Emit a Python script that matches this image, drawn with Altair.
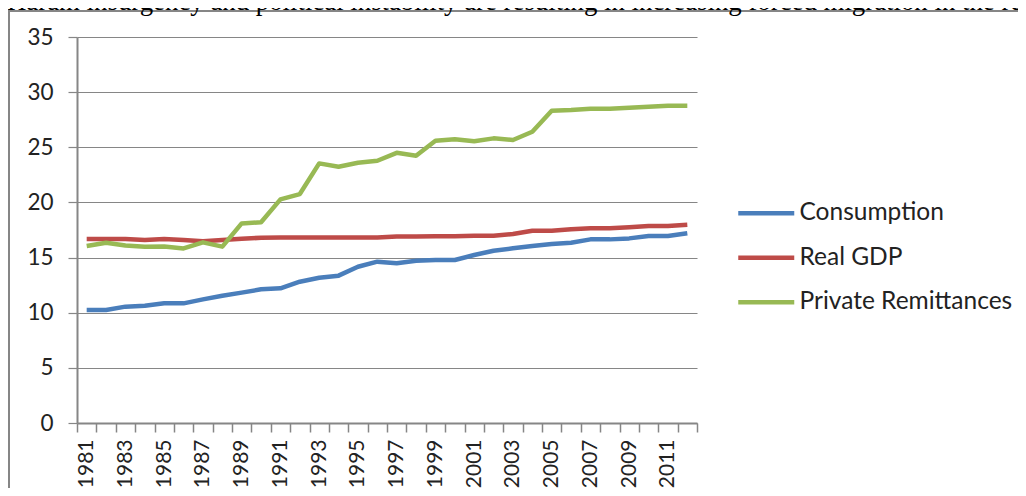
import altair as alt
import pandas as pd

years = list(range(1981, 2013))
consumption = [10.25, 10.25, 10.55, 10.64, 10.85, 10.85, 11.21, 11.54, 11.82, 12.12,
               12.21, 12.81, 13.17, 13.36, 14.17, 14.63, 14.48, 14.72, 14.78, 14.78,
               15.23, 15.62, 15.84, 16.05, 16.23, 16.35, 16.65, 16.65, 16.74, 16.95,
               16.95, 17.2]
real_gdp = [16.68, 16.68, 16.68, 16.6, 16.68, 16.6, 16.47, 16.6, 16.7, 16.8,
            16.83, 16.83, 16.83, 16.83, 16.83, 16.83, 16.9, 16.9, 16.93, 16.93,
            16.98, 16.98, 17.13, 17.43, 17.43, 17.56, 17.65, 17.65, 17.74, 17.86,
            17.86, 17.98]
remittances = [16.05, 16.35, 16.1, 15.99, 16.0, 15.83, 16.38, 15.99, 18.1, 18.2,
               20.28, 20.76, 23.54, 23.24, 23.6, 23.78, 24.5, 24.24, 25.6, 25.72,
               25.54, 25.81, 25.66, 26.41, 28.32, 28.38, 28.5, 28.5, 28.59, 28.68,
               28.77, 28.77]

series_names = ["Consumption", "Real GDP", "Private Remittances"]
series_colors = ["#4a7ebb", "#be4b48", "#98b954"]
y_ticks = [0, 5, 10, 15, 20, 25, 30, 35]
caption = ("Haram insurgency and political instability are resulting in increasing "
           "forced migration in the region")

rows = []
for name, vals in zip(series_names, [consumption, real_gdp, remittances]):
    for yr, v in zip(years, vals):
        rows.append({"Year": yr, "Value": v, "Series": name})
df = pd.DataFrame(rows)

half_years = [y - 0.5 for y in years] + [years[-1] + 0.5]
odd_years = [y for y in years if y % 2 == 1]
x_values = sorted(half_years + odd_years)

FONT = "Lato"
GRAY = "#868686"

lines = alt.Chart(df).mark_line(strokeWidth=4.5, strokeJoin="round").encode(
    x=alt.X("Year:Q",
            scale=alt.Scale(domain=[1980.5, 2012.5], nice=False, zero=False),
            axis=alt.Axis(title=None, values=x_values, grid=False,
                          labelExpr="datum.value % 2 == 1 ? '' + datum.value : ''",
                          labelAngle=-90, labelFont=FONT, labelFontSize=21,
                          labelColor="#222222", labelPadding=7,
                          tickSize=9, tickColor=GRAY, tickWidth=1.5,
                          tickOpacity={"condition": {"test": "datum.value % 1 == 0", "value": 0}, "value": 1},
                          domainColor=GRAY, domainWidth=2, labelOverlap=False,
                          labelBound=False, labelFlush=False)),
    y=alt.Y("Value:Q",
            scale=alt.Scale(domain=[0, 35], nice=False),
            axis=alt.Axis(title=None, values=y_ticks, grid=True, gridColor=GRAY,
                          gridWidth=1.2, labelFont=FONT, labelFontSize=22.5,
                          labelColor="#222222", labelPadding=15, tickSize=9,
                          tickColor=GRAY, tickWidth=1.2, domainColor=GRAY,
                          domainWidth=2)),
    color=alt.Color("Series:N",
                    scale=alt.Scale(domain=series_names, range=series_colors),
                    legend=alt.Legend(title=None, orient="none", legendX=698, legendY=164,
                                      symbolType="M-7,0H1", symbolSize=196,
                                      symbolStrokeWidth=4.5, labelFont=FONT,
                                      labelFontSize=24.5, labelColor="#222222",
                                      labelOffset=0, rowPadding=19.5, labelLimit=0)),
)

frame = alt.Chart(alt.Data(values=[{}])).mark_rect(
    fill=None, stroke=GRAY, strokeWidth=2
).encode(x=alt.value(-68), x2=alt.value(2000), y=alt.value(-26), y2=alt.value(1000))

cap = alt.Chart(alt.Data(values=[{"t": caption}])).mark_text(
    font="Liberation Serif", fontSize=26.8, align="left", baseline="alphabetic",
    color="#000000"
).encode(x=alt.value(-70), y=alt.value(-27), text="t:N")

chart = alt.layer(frame, lines, cap).properties(
    width=620, height=386,
    padding={"left": 69, "top": 29, "right": 321, "bottom": 65},
    autosize=alt.AutoSizeParams(type="none"),
).configure_view(stroke=None)

chart.save("out.html", embed_options={"renderer": "svg", "actions": False})
